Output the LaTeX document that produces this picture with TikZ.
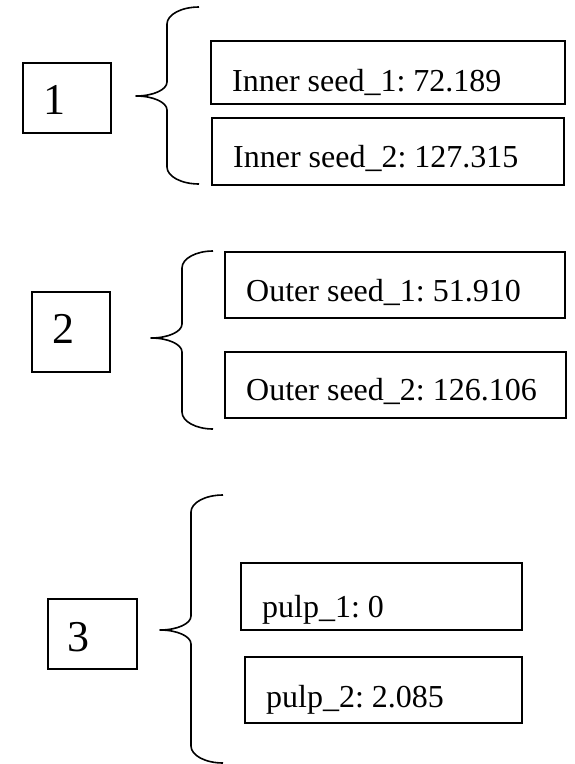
\documentclass[tikz,border=0pt]{standalone}
\usepackage{fontspec}
\setmainfont{Liberation Serif}
\frenchspacing
\begin{document}
\begin{tikzpicture}[x=1pt,y=-1pt,
  box/.style={draw=black,line width=1.4pt,rectangle,inner sep=0pt,outer sep=0pt,anchor=north west},
  lbl/.style={anchor=base west,inner sep=0pt,font=\fontsize{32}{36}\selectfont},
  numlbl/.style={anchor=base west,inner sep=0pt,font=\fontsize{44}{50}\selectfont},
  bracestyle/.style={draw=black,line width=1.6pt,line join=round}]
\useasboundingbox (0,0) rectangle (575,764);
\newcommand{\drawbrace}[6]{%
\draw[bracestyle] (#1,#2) .. controls ({#1-0.552*(#1-#3)},#2) and (#3,{#2+17-0.552*17}) .. (#3,{#2+17})
 -- (#3,{#5-14}) .. controls (#3,{#5-14+0.552*14}) and ({#4+0.552*(#3-#4)},#5) .. (#4,#5)
 .. controls ({#4+0.552*(#3-#4)},#5) and (#3,{#5+14-0.552*14}) .. (#3,{#5+14})
 -- (#3,{#6-17}) .. controls (#3,{#6-17+0.552*17}) and ({#1-0.552*(#1-#3)},#6) .. (#1,#6);}
% group 1
\node[box,minimum width=88pt,minimum height=70pt] (n1) at (23,63) {};
\node[numlbl] (t1) at (43,114) {1};
\drawbrace{199}{7}{167}{136}{96}{184}
\node[box,minimum width=354pt,minimum height=63pt] (i1) at (211,41) {};
\node[lbl] (ti1) at (232,91) {Inner seed\_1: 72.189};
\node[box,minimum width=352pt,minimum height=67pt] (i2) at (212,118) {};
\node[lbl] (ti2) at (233,167) {Inner seed\_2: 127.315};
% group 2
\node[box,minimum width=78pt,minimum height=80pt] (n2) at (32,292) {};
\node[numlbl] (t2) at (52,343) {2};
\drawbrace{213}{251}{182}{151}{338}{429}
\node[box,minimum width=340pt,minimum height=66pt] (o1) at (225,252) {};
\node[lbl] (to1) at (246,301) {Outer seed\_1: 51.910};
\node[box,minimum width=341pt,minimum height=66pt] (o2) at (225,352) {};
\node[lbl] (to2) at (246,400) {Outer seed\_2: 126.106};
% group 3
\node[box,minimum width=89pt,minimum height=70pt] (n3) at (48,599) {};
\node[numlbl] (t3) at (67,651) {3};
\drawbrace{223}{495}{191}{160}{630}{763}
\node[box,minimum width=281pt,minimum height=67pt] (p1) at (241,563) {};
\node[lbl] (tp1) at (262,617) {pulp\_1: 0};
\node[box,minimum width=277pt,minimum height=66pt] (p2) at (245,657) {};
\node[lbl] (tp2) at (266,707) {pulp\_2: 2.085};
\end{tikzpicture}
\end{document}
